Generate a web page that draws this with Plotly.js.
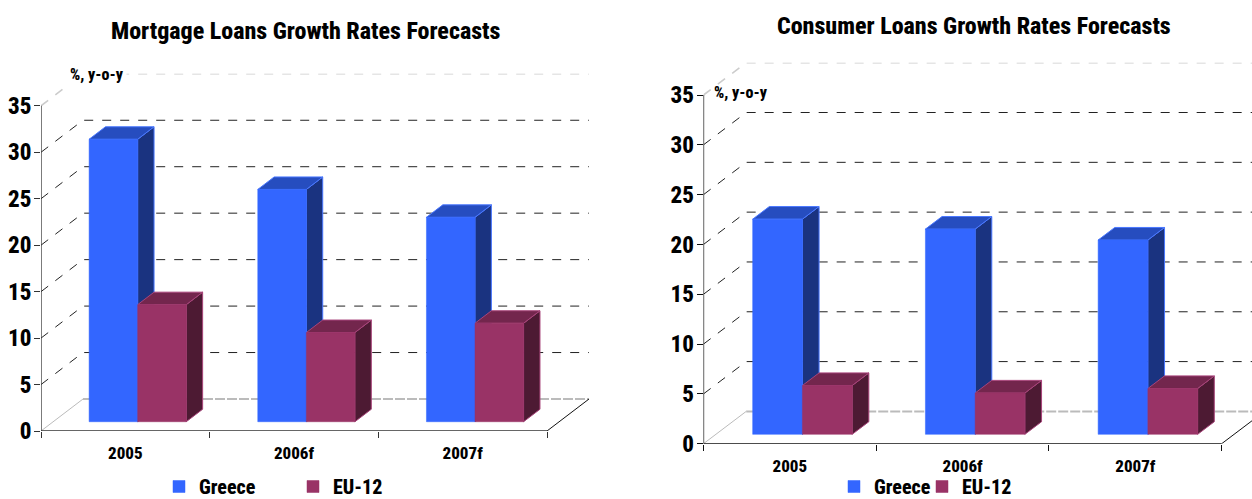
<!DOCTYPE html>
<html>
<head>
<meta charset="utf-8">
<script src="https://cdn.plot.ly/plotly-3.0.1.min.js"></script>
<style>html,body{margin:0;padding:0;background:#fff}#chart{width:1252px;height:499px}</style>
</head>
<body>
<div id="chart"></div>
<script>
// Loan growth forecasts, % y-o-y
const categories = ['2005', '2006f', '2007f'];
const seriesNames = ['Greece', 'EU-12'];
const mortgageGreece = [30.4, 25.0, 22.0];
const mortgageEU12 = [12.6, 9.6, 10.6];
const consumerGreece = [21.6, 20.6, 19.5];
const consumerEU12 = [4.9, 4.15, 4.6];
const yTicks = [0, 5, 10, 15, 20, 25, 30, 35];

const W = 1252, H = 499;
const FONT = '"Roboto Condensed", "Open Sans Condensed", Roboto, sans-serif';
const HEAVY = 800;
const BLUE = {front: '#3366FF', top: '#264DBF', side: '#1A3380', edge: '#4A78FF'};
const WINE = {front: '#993366', top: '#73264D', side: '#4D1A33', edge: '#A8447A'};
const BAR_START = 0.213, BAR_W = 0.288, DEPTH_FRONT = 0.29, DEPTH_BACK = 0.68;

// Plot frame of each panel, in page pixels; each series key gets its own legend box
const panels = [
  {id: '', legends: [['legend', 159, 486.5], ['legend2', 293, 486.5]], left: 41, right: 547, y0: 431, y35: 105.8, backX: 42, backY: 32, clipRight: 589,
   greece: mortgageGreece, eu: mortgageEU12, axisColor: '#333'},
  {id: '2', legends: [['legend3', 834, 486.5], ['legend4', 922, 486.5]], left: 703.5, right: 1221.7, y0: 443.7, y35: 95, backX: 42.7, backY: 32.3, clipRight: 1252,
   greece: consumerGreece, eu: consumerEU12, axisColor: '#111'}
];

const traces = [], shapes = [], layout = {
  width: W, height: H, margin: {l: 0, r: 0, t: 0, b: 0, autoexpand: false}, barmode: 'overlay',
  paper_bgcolor: '#fff', plot_bgcolor: 'rgba(0,0,0,0)', font: {family: FONT, color: '#000'}
};

panels.forEach((p) => {
  const unitX = (p.right - p.left) / categories.length;
  const unitY = (p.y0 - p.y35) / 35;
  const dX = p.backX / unitX, dY = p.backY / unitY;
  const xr = 'x' + p.id, yr = 'y' + p.id;
  const proj = (c, v, d) => [c + d * dX, v + d * dY];
  const poly = (pts) => 'M' + pts.map((q) => q.join(',')).join('L') + 'Z';
  const addLine = (path, color, width, dash) => shapes.push({
    type: 'path', xref: xr, yref: yr, layer: 'below', path,
    line: {color, width, dash}, fillcolor: 'rgba(0,0,0,0)'
  });

  // Wall and floor rules: diagonal along the side wall, then across the back wall
  yTicks.forEach((v) => {
    const a = proj(0, v, 0), b = proj(0, v, 1), c = proj(categories.length, v, 1);
    const path = 'M' + a.join(',') + 'L' + b.join(',') + 'L' + c.join(',');
    if (v === 0) {
      addLine('M' + a.join(',') + 'L' + b.join(','), '#BBBBBB', 1, 'solid');
      addLine('M' + b.join(',') + 'L' + c.join(','), '#BBBBBB', 2, '10px,2px');
    } else if (v === 35) {
      addLine(path, '#CCCCCC', 1.6, '9px,9px');
    } else {
      addLine(path, '#222222', 1, '9px,9px');
    }
  });
  addLine('M' + proj(categories.length, 0, 0).join(',') + 'L' + proj(categories.length, 0, 1).join(','), '#111', 1, 'solid');

  // Side and top faces of the boxes sit behind the front faces
  [[p.greece, 0, BLUE], [p.eu, 1, WINE]].forEach(([vals, s, col]) => {
    vals.forEach((v, i) => {
      const c0 = i + BAR_START + s * BAR_W, c1 = c0 + BAR_W;
      const side = [proj(c1, 0, DEPTH_FRONT), proj(c1, v, DEPTH_FRONT), proj(c1, v, DEPTH_BACK), proj(c1, 0, DEPTH_BACK)];
      const top = [proj(c0, v, DEPTH_FRONT), proj(c1, v, DEPTH_FRONT), proj(c1, v, DEPTH_BACK), proj(c0, v, DEPTH_BACK)];
      shapes.push({type: 'path', xref: xr, yref: yr, layer: 'below', path: poly(side), fillcolor: col.side, line: {color: col.edge, width: 1}});
      shapes.push({type: 'path', xref: xr, yref: yr, layer: 'below', path: poly(top), fillcolor: col.top, line: {color: col.edge, width: 1}});
    });
    const [legendKey, legendX, legendY] = p.legends[s];
    traces.push({
      type: 'bar', name: seriesNames[s], xaxis: xr, yaxis: yr, legend: legendKey, showlegend: true,
      x: vals.map((_, i) => proj(i + BAR_START + s * BAR_W + BAR_W / 2, 0, DEPTH_FRONT)[0]),
      y: vals, base: vals.map(() => proj(0, 0, DEPTH_FRONT)[1]), width: BAR_W,
      marker: {color: col.front, line: {color: col.front, width: 0.5}}, hoverinfo: 'y+name'
    });
    layout[legendKey] = {
      orientation: 'h', x: legendX / W, xanchor: 'left', y: (H - legendY) / H, yanchor: 'middle',
      font: {family: FONT, size: 20, weight: HEAVY}, bgcolor: 'rgba(0,0,0,0)', itemclick: false, itemdoubleclick: false
    };
  });

  // Axis lines stop at the front edge of the floor
  shapes.push({type: 'line', xref: xr, yref: yr, x0: 0, x1: 0, y0: 0, y1: 35, line: {color: p.axisColor, width: 1.3}});
  shapes.push({type: 'line', xref: xr, yref: yr, x0: 0, x1: categories.length, y0: 0, y1: 0, line: {color: p.axisColor, width: 1.6}});

  const xKey = 'xaxis' + p.id, yKey = 'yaxis' + p.id;
  layout[xKey] = {
    domain: [p.left / W, p.clipRight / W], range: [0, (p.clipRight - p.left) / unitX], anchor: yr,
    tickmode: 'array', tickvals: categories.map((_, i) => i + 0.5), ticktext: categories,
    ticks: '', ticklen: 0, ticklabelstandoff: 10, showgrid: false, zeroline: false, showline: false,
    tickfont: {family: FONT, size: 17, color: '#000', weight: HEAVY},
    minor: {tickmode: 'array', tickvals: [0, 1, 2, 3], ticks: 'outside', ticklen: 6, tickwidth: 1, tickcolor: p.axisColor, showgrid: false}
  };
  layout[yKey] = {
    domain: [(H - p.y0) / H, (H - p.y35 + p.backY) / H], range: [0, 35 + dY], anchor: xr,
    tickmode: 'array', tickvals: yTicks, ticks: 'outside', ticklen: 6, tickwidth: 1, tickcolor: p.axisColor,
    ticklabelstandoff: -2, showgrid: false, zeroline: false, showline: false,
    tickfont: {family: FONT, size: 23, color: '#000', weight: HEAVY}
  };
});

layout.shapes = shapes;
const titleFont = {family: FONT, size: 24, color: '#000', weight: HEAVY};
const unitFont = {family: FONT, size: 16, color: '#000', weight: HEAVY};
layout.annotations = [
  {text: 'Mortgage Loans Growth Rates Forecasts', xref: 'paper', yref: 'paper', x: 305 / W, y: (H - 31) / H, xanchor: 'center', yanchor: 'middle', showarrow: false, font: titleFont},
  {text: 'Consumer Loans Growth Rates Forecasts', xref: 'paper', yref: 'paper', x: 974 / W, y: (H - 26) / H, xanchor: 'center', yanchor: 'middle', showarrow: false, font: titleFont},
  {text: '%, y-o-y', xref: 'paper', yref: 'paper', x: 97 / W, y: (H - 74) / H, xanchor: 'center', yanchor: 'middle', showarrow: false, font: unitFont, bgcolor: '#fff', borderpad: 2},
  {text: '%, y-o-y', xref: 'paper', yref: 'paper', x: 741 / W, y: (H - 93) / H, xanchor: 'center', yanchor: 'middle', showarrow: false, font: unitFont}
];

Plotly.newPlot('chart', traces, layout, {displayModeBar: false, responsive: false});
</script>
</body>
</html>
